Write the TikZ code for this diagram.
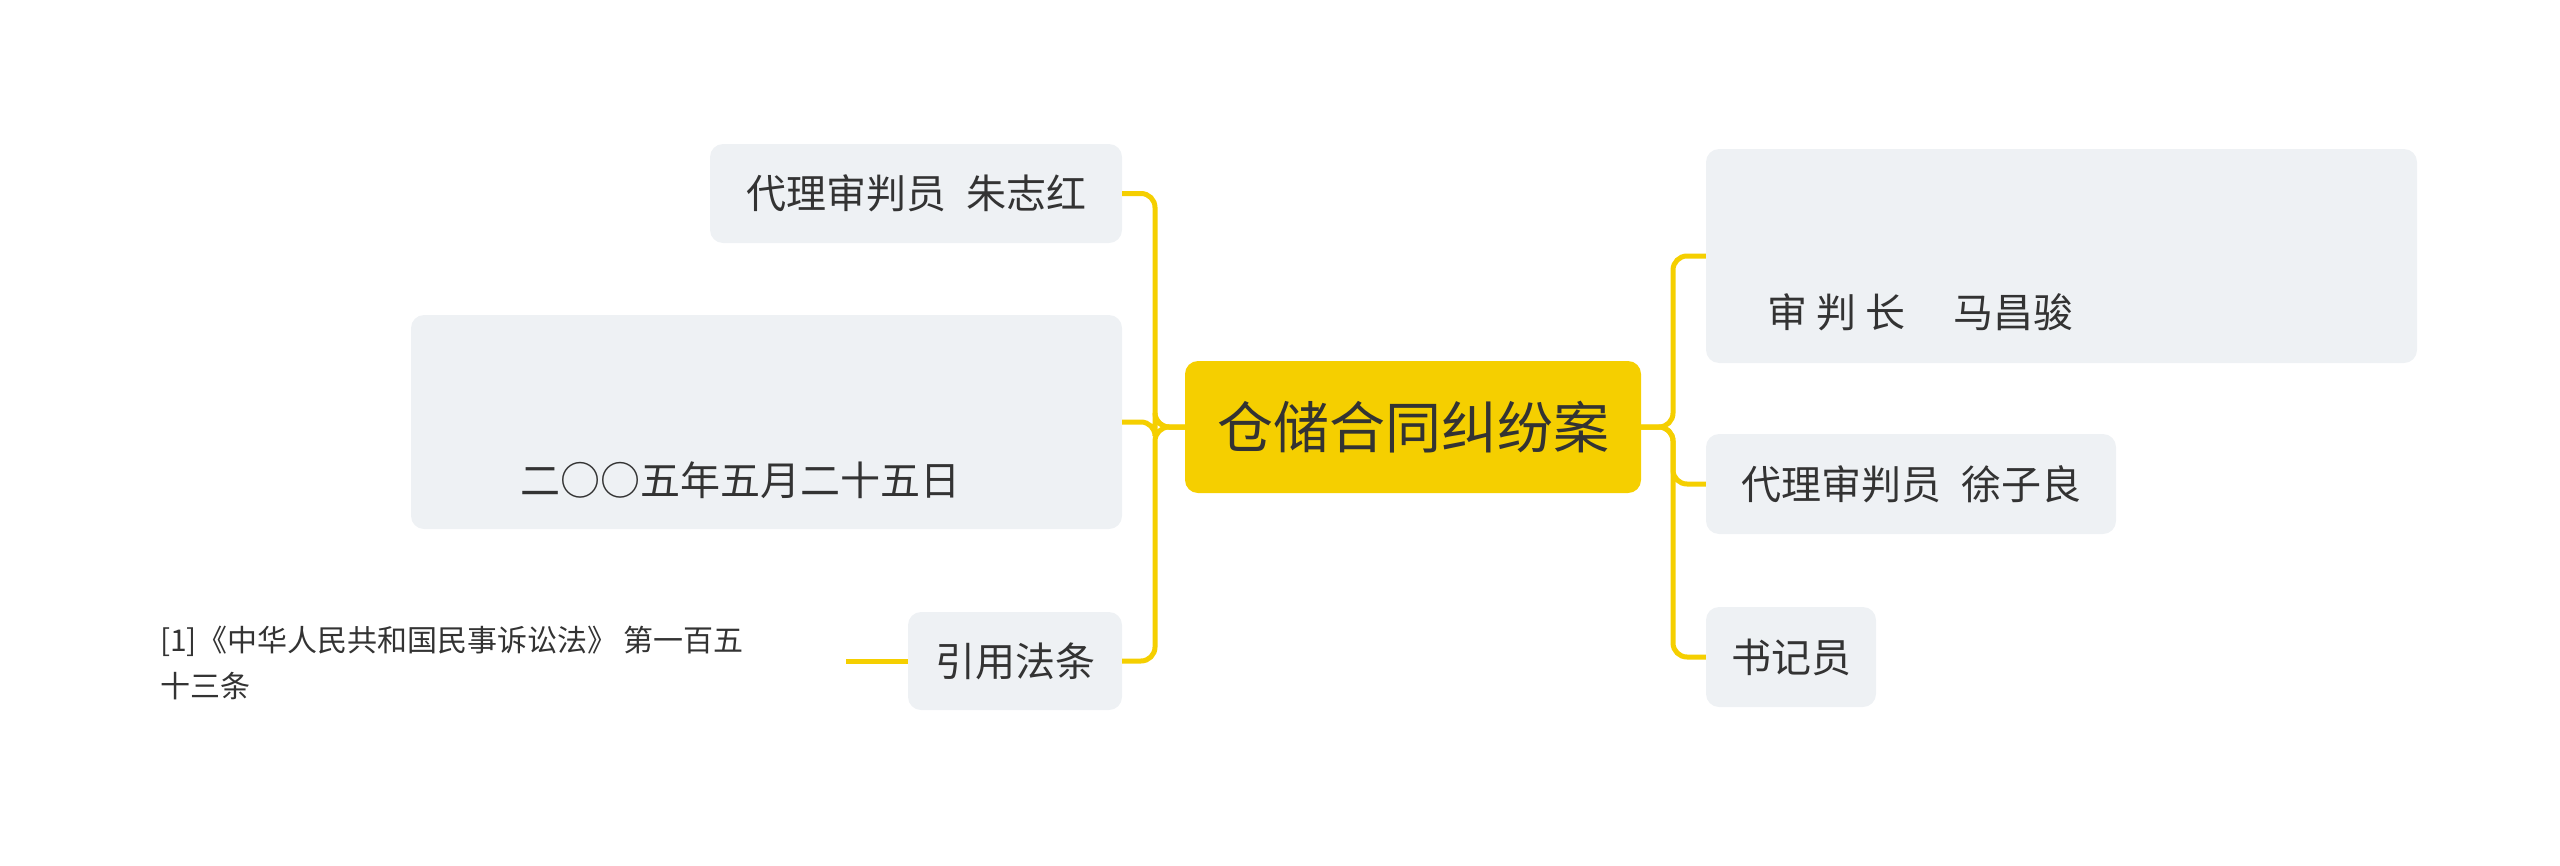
\documentclass[tikz,border=0pt]{standalone}
\usepackage{fontspec}
\setmainfont{Noto Sans CJK SC}
\definecolor{yel}{HTML}{F5CF00}
\definecolor{box}{HTML}{EEF1F4}
\definecolor{txt}{HTML}{333333}
\begin{document}
\begin{tikzpicture}[x=1pt,y=-1pt,
  bx/.style={fill=box,rounded corners=13pt,inner sep=0pt},
  lbl/.style={text=txt,font=\fontsize{40}{48}\selectfont,inner sep=0pt},
  con/.style={draw=yel,line width=5pt,rounded corners=14pt}]
\useasboundingbox (0,0) rectangle (2560,865);
% center
\node[fill=yel,rounded corners=13pt,minimum width=456pt,minimum height=132pt,text=txt,font=\fontsize{56}{64}\selectfont] (c) at (1413,427) {仓储合同纠纷案};
% right
\node[bx,minimum width=711pt,minimum height=214pt] (r1) at (2061.5,256) {};
\node[lbl,anchor=west] (r1t) at (1767,312) {审 判 长\hspace{1.2em}马昌骏};
\node[bx,minimum width=410pt,minimum height=100pt,lbl] (r2) at (1911,484) {代理审判员\hspace{0.5em}徐子良};
\node[bx,minimum width=170pt,minimum height=100pt,lbl] (r3) at (1791,657) {书记员};
% left
\node[bx,minimum width=412pt,minimum height=99pt,lbl] (l1) at (916,193.5) {代理审判员\hspace{0.5em}朱志红};
\node[bx,minimum width=711pt,minimum height=214pt] (l2) at (766.5,422) {};
\node[lbl] (l2t) at (740,480) {二○○五年五月二十五日};
\node[bx,minimum width=214pt,minimum height=98pt,lbl] (l3) at (1015,661) {引用法条};
\node[text=txt,font=\fontsize{30}{46}\selectfont,anchor=west,align=left,inner sep=0pt] (leaf) at (160,663) {[1]《中华人民共和国民事诉讼法》 第一百五\\十三条};
\coordinate (le) at (846,661);
% connectors
\coordinate (rt) at (1673,427);
\coordinate (lt) at (1155,427);
\foreach \n in {r1,r2,r3}{\draw[con] (c.east) -- (rt) |- (\n.west);}
\foreach \n in {l1,l2,l3}{\draw[con] (c.west) -- (lt) |- (\n.east);}
\draw[con] (l3.west) -- (le);
\end{tikzpicture}
\end{document}
